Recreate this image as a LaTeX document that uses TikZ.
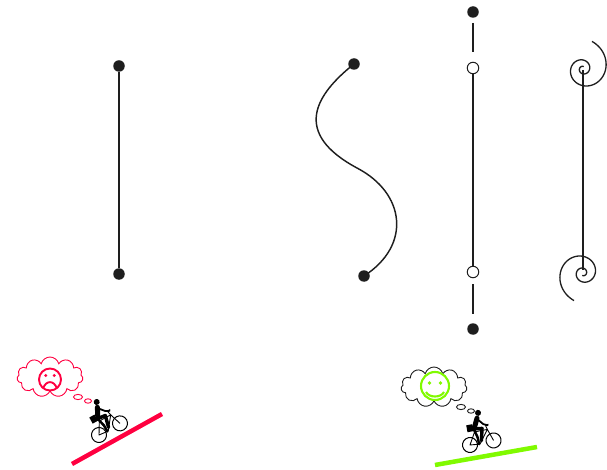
\documentclass[tikz,border=0pt]{standalone}
\usepackage{tikz}
\usetikzlibrary{shapes.symbols}
\definecolor{ink}{RGB}{30, 30, 30}
\definecolor{sadred}{RGB}{255, 0, 64}
\definecolor{gladgreen}{RGB}{128, 250, 0}
\tikzset{dot/.style = {circle, fill=ink, inner sep=0pt, minimum size=11.5pt}}
\tikzset{ring/.style = {circle, draw=ink, fill=white, line width=1pt, inner sep=0pt, minimum size=11.5pt}}
\tikzset{strand/.style = {draw=ink, line width=1.45pt}}
\tikzset{thought/.style = {cloud, cloud puffs=11, cloud ignores aspect, draw, line width=0.9pt,
                           minimum width=66pt, minimum height=40pt}}
\tikzset{cyclist/.pic = {
    \draw [line width=1pt] (0, 0) circle (7.5) (24, 0) circle (7.5);
    \draw [line width=0.9pt, line join=round] (0, 0) -- (10, 1) -- (7, -12) -- cycle
          (7, -12) -- (20, -12) -- (10, 1) (20, -12) -- (24, 0) (20, -12) -- (19, -16) -- (22, -17);
    \fill (14, -30) circle (3);
    \draw [line width=5pt, line cap=round] (7, -15) -- (12, -25);
    \draw [line width=1.8pt, line cap=round, line join=round] (12, -24) -- (17, -18) -- (21, -16);
    \draw [line width=3.4pt, line cap=round, line join=round] (7, -15) -- (15, -14) -- (12, -2);
    \draw [line width=2.4pt, line cap=round, line join=round] (7, -14) -- (9, -6) -- (9, 1);
    \fill (0, -20) rectangle (6, -13);
  }}

\begin{document}
\begin{tikzpicture}[x=1pt, y=-1pt]
    \useasboundingbox (0, 0) rectangle (607, 470);

    % straight string
    \node [dot] (leftA) at (119, 66) {};
    \node [dot] (leftB) at (119, 274) {};
    \draw [strand] (leftA) -- (leftB);

    % bent string
    \node [dot] (snakeA) at (354, 64) {};
    \node [dot] (snakeB) at (364, 276) {};
    \draw [strand] (snakeA.center) .. controls (315, 95) and (292, 133) .. (357, 168)
                   .. controls (405, 193) and (412, 245) .. (snakeB.center);

    % string held by rings
    \node [dot] (topdot) at (473, 12) {};
    \node [ring] (topring) at (473, 68) {};
    \node [ring] (bottomring) at (473, 272) {};
    \node [dot] (bottomdot) at (473, 329) {};
    \draw [strand, shorten <=5pt, shorten >=10pt] (topdot) -- (topring);
    \draw [strand] (topring) -- (bottomring);
    \draw [strand, shorten <=6pt, shorten >=9pt] (bottomring) -- (bottomdot);

    % string with curled ends
    \coordinate (topcurl) at (583, 70);
    \coordinate (bottomcurl) at (583, 270);
    \draw [strand] (topcurl) -- (bottomcurl);
    \draw [strand, line width=1.3pt] plot [domain=-72:648, samples=240, smooth]
          ({583 + 29*exp(-0.003421*(\x + 72))*cos(\x)}, {69 + 29*exp(-0.003421*(\x + 72))*sin(\x)});
    \draw [strand, line width=1.3pt] plot [domain=108:828, samples=240, smooth]
          ({583 + 29*exp(-0.003421*(\x - 108))*cos(\x)}, {273 + 29*exp(-0.003421*(\x - 108))*sin(\x)});

    % uphill
    \draw [sadred, line width=4.5pt] (72, 464) -- (162, 414);
    \pic [rotate=29] at (99, 435) {cyclist};
    \node [thought, draw=sadred] (sadcloud) at (50, 377) {};
    \draw [sadred, line width=0.9pt] (78, 397) ellipse [x radius=4.5, y radius=2.6]
                                     (88, 401) ellipse [x radius=3.5, y radius=2.2];
    \node [circle, draw=sadred, line width=1.9pt, inner sep=0pt, minimum size=22pt] (sadface) at (50, 379.5) {};
    \fill [sadred] ([shift={(-4.3, -4)}]sadface.center) circle (1.6)
                   ([shift={(4.3, -4)}]sadface.center) circle (1.6);
    \draw [sadred, line width=1.9pt] ([shift={(-7, 9)}]sadface.center)
          .. controls +(3, -8.5) and +(-3, -8.5) .. ([shift={(7, 9)}]sadface.center);

    % nearly flat
    \draw [gladgreen, line width=4.5pt] (435, 465) -- (537, 447);
    \pic [rotate=11] at (470, 445) {cyclist};
    \node [thought, draw=ink] (gladcloud) at (434, 387) {};
    \draw [ink, line width=0.9pt] (461, 407) ellipse [x radius=4.5, y radius=2.6]
                                  (471, 411) ellipse [x radius=3.5, y radius=2.2];
    \node [circle, draw=gladgreen, line width=2.1pt, inner sep=0pt, minimum size=28pt] (gladface) at (435, 386) {};
    \fill [gladgreen] ([shift={(-5.5, -3)}]gladface.center) circle (1.8)
                      ([shift={(5.5, -3)}]gladface.center) circle (1.8);
    \draw [gladgreen, line width=2.1pt] ([shift={(-9, 6)}]gladface.center)
          .. controls +(3, 6) and +(-3, 6) .. ([shift={(9, 6)}]gladface.center);
\end{tikzpicture}
\end{document}
